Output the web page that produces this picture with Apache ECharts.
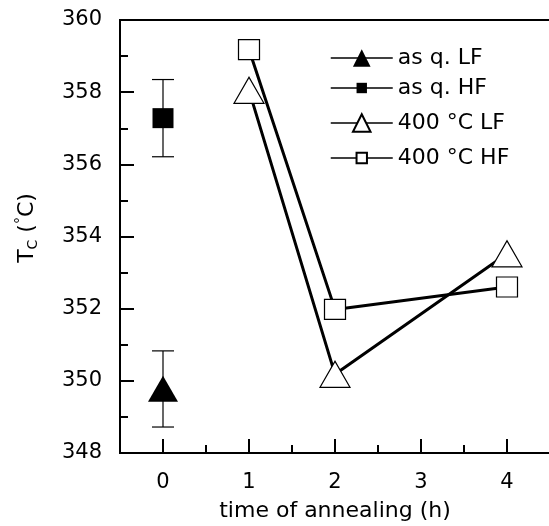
<!DOCTYPE html>
<html><head><meta charset="utf-8">
<script src="https://cdn.jsdelivr.net/npm/echarts@6/dist/echarts.min.js"></script>
<style>html,body{margin:0;padding:0;background:#fff}#c{width:549px;height:526px}</style>
</head><body><div id="c"></div>
<script>
// ---- data ----
const xTickValues = [0, 1, 2, 3, 4];
const xMinorTickValues = [0.5, 1.5, 2.5, 3.5];
const seriesNames = ['as q. LF', 'as q. HF', '400 °C LF', '400 °C HF'];
const asqLF = [[0, 349.78]];
const asqHF = [[0, 357.28]];
const t400LF = [[1, 358.05], [2, 350.18], [4, 353.52]];
const t400HF = [[1, 359.18], [2, 351.98], [4, 352.60]];
// [x, low, high]
const errorBars = [[0, 348.72, 350.83], [0, 356.21, 358.35]];

// ---- chart ----
const FF = 'DejaVu Sans';
const chart = echarts.init(document.getElementById('c'), null, {renderer: 'canvas'});
const legendTops = [47, 77, 112, 147];
const legendH = [22, 13, 22, 13];

const option = {
  animation: false,
  backgroundColor: '#fff',
  grid: {left: 120, right: -1, top: 20, bottom: 73, outerBoundsMode: 'none', containLabel: false, show: true, borderColor: '#000', borderWidth: 2, backgroundColor: 'transparent'},
  legend: seriesNames.map((n, i) => ({
    data: [n], orient: 'vertical', left: 330, top: legendTops[i], padding: 0,
    itemWidth: 62, itemHeight: legendH[i], itemGap: 0, selectedMode: false,
    textStyle: {fontSize: 22, color: '#000', fontFamily: FF},
    lineStyle: {width: 1.5, color: '#000'}
  })),
  xAxis: [
    {
      type: 'value', min: -0.5, max: 4.5, position: 'bottom',
      axisLine: {show: true, onZero: false, lineStyle: {color: '#000', width: 2}},
      axisTick: {show: true, inside: true, length: 14, customValues: xTickValues, lineStyle: {color: '#000', width: 2}},
      axisLabel: {customValues: xTickValues, margin: 19, fontSize: 21, color: '#000', fontFamily: FF},
      splitLine: {show: false},
      name: 'time of annealing (h)', nameLocation: 'middle', nameGap: 47,
      nameTextStyle: {fontSize: 22, color: '#000', fontFamily: FF}
    },
    {
      type: 'value', min: -0.5, max: 4.5, position: 'bottom',
      axisLine: {show: false, onZero: false},
      axisTick: {show: true, inside: true, length: 8, customValues: xMinorTickValues, lineStyle: {color: '#000', width: 2}},
      axisLabel: {show: false},
      splitLine: {show: false}
    }
  ],
  yAxis: {
    type: 'value', min: 348, max: 360, interval: 2,
    axisLine: {show: true, onZero: false, lineStyle: {color: '#000', width: 2}},
    axisTick: {show: true, inside: true, length: 14, lineStyle: {color: '#000', width: 2}},
    minorTick: {show: true, splitNumber: 2, length: 8, lineStyle: {color: '#000', width: 2}},
    splitLine: {show: false},
    axisLabel: {margin: 18, fontSize: 21, color: '#000', fontFamily: FF},
    name: '{a|T}{s|C}{a| (}{p|°}{a|C)}', nameLocation: 'middle', nameGap: 80, nameRotate: 90,
    nameTextStyle: {
      padding: [0, 0, 0, 17],
      rich: {
        a: {fontSize: 22, color: '#000', fontFamily: FF, lineHeight: 26},
        s: {fontSize: 14, color: '#000', fontFamily: FF, verticalAlign: 'bottom', lineHeight: 14},
        p: {fontSize: 14, color: '#000', fontFamily: FF, verticalAlign: 'top', lineHeight: 14}
      }
    }
  },
  series: [
    {
      type: 'custom', xAxisIndex: 0, data: errorBars, z: 1, silent: true,
      encode: {x: 0, y: [1, 2]},
      renderItem: function (params, api) {
        const x = api.value(0);
        const lo = api.coord([x, api.value(1)]);
        const hi = api.coord([x, api.value(2)]);
        const hw = 11;
        const style = {stroke: '#000', lineWidth: 1.2, fill: null};
        return {type: 'group', children: [
          {type: 'line', shape: {x1: lo[0], y1: lo[1], x2: hi[0], y2: hi[1]}, style: style},
          {type: 'line', shape: {x1: lo[0] - hw, y1: lo[1], x2: lo[0] + hw, y2: lo[1]}, style: style},
          {type: 'line', shape: {x1: hi[0] - hw, y1: hi[1], x2: hi[0] + hw, y2: hi[1]}, style: style}
        ]};
      }
    },
    {
      name: seriesNames[0], type: 'line', xAxisIndex: 0, data: asqLF, z: 3,
      symbol: 'triangle', symbolSize: [30, 26], showAllSymbol: true,
      itemStyle: {color: '#000', borderColor: '#000', borderWidth: 0},
      lineStyle: {color: '#000', width: 1.5}
    },
    {
      name: seriesNames[1], type: 'line', xAxisIndex: 0, data: asqHF, z: 3,
      symbol: 'rect', symbolSize: [21, 20], showAllSymbol: true,
      itemStyle: {color: '#000', borderColor: '#000', borderWidth: 0},
      lineStyle: {color: '#000', width: 1.5}
    },
    {
      name: seriesNames[2], type: 'line', xAxisIndex: 0, data: t400LF, z: 3,
      symbol: 'triangle', symbolSize: [30, 26], showAllSymbol: true,
      itemStyle: {color: '#fff', borderColor: '#000', borderWidth: 1.2},
      lineStyle: {color: '#000', width: 3}
    },
    {
      name: seriesNames[3], type: 'line', xAxisIndex: 0, data: t400HF, z: 3,
      symbol: 'rect', symbolSize: [21, 20], showAllSymbol: true,
      itemStyle: {color: '#fff', borderColor: '#000', borderWidth: 1.2},
      lineStyle: {color: '#000', width: 3}
    }
  ]
};
chart.setOption(option);
</script>
</body></html>
